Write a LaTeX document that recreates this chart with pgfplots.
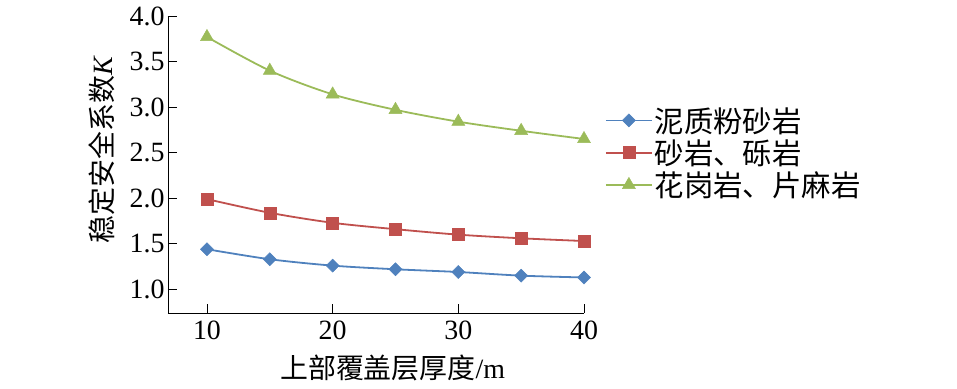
\documentclass[border=0pt]{standalone}
\usepackage{fontspec}
\setmainfont{Liberation Serif}
\newfontfamily\cjk{Noto Sans CJK SC}
\usepackage{pgfplots}
\pgfplotsset{compat=1.18}
\definecolor{cblue}{HTML}{4F81BD}
\definecolor{cred}{HTML}{C0504D}
\definecolor{cgreen}{HTML}{9BBB59}
\begin{document}
\begin{tikzpicture}
\begin{axis}[
  scale only axis,
  width=416bp, height=297bp,
  xmin=6.9, xmax=40, ymin=0.74, ymax=4.0,
  axis x line=bottom, axis y line=left,
  axis line style={-, line width=0.8bp, black},
  xtick={10,20,30,40},
  ytick={1.0,1.5,2.0,2.5,3.0,3.5,4.0},
  y tick label style={/pgf/number format/fixed, /pgf/number format/fixed zerofill, /pgf/number format/precision=1},
  /pgf/number format/assume math mode=true,
  tick align=inside,
  major tick length=9bp,
  tick style={line width=0.8bp, black},
  tick label style={font=\fontsize{28}{32}\selectfont},
  x tick label style={yshift=-4bp},
  xlabel={{\cjk 上部覆盖层厚度}/m},
  ylabel={{\cjk 稳定安全系数}\textit{K}},
  label style={font=\fontsize{28}{32}\selectfont},
  x label style={at={(axis description cs:0.54,-0.185)}, anchor=center},
  y label style={at={(axis description cs:-0.159,0.55)}, anchor=center},
  legend style={draw=none, fill=none, at={(axis description cs:1.05,0.70)}, anchor=north west,
    font=\fontsize{29.5}{33}\selectfont\cjk, row sep=2bp, inner sep=0bp,
    nodes={inner sep=2bp}},
  legend cell align=left,
  legend image code/.code={
    \draw[mark repeat=2,mark phase=2] plot coordinates {(0bp,0bp) (23bp,0bp) (46bp,0bp)};
  },
  every axis plot/.append style={line width=1.8bp, smooth},
]
\addplot[color=cblue, mark=square*, mark size=4.6bp, mark options={solid, rotate=45, fill=cblue, draw=cblue, line width=0.5bp}]
  coordinates {(10,1.44) (15,1.33) (20,1.26) (25,1.22) (30,1.19) (35,1.15) (40,1.13)};
\addlegendentry{泥质粉砂岩}
\addplot[color=cred, mark=square*, mark size=6bp, mark options={solid, fill=cred, draw=cred, line width=0.5bp}]
  coordinates {(10,1.99) (15,1.84) (20,1.73) (25,1.66) (30,1.60) (35,1.56) (40,1.53)};
\addlegendentry{砂岩、砾岩}
\addplot[color=cgreen, mark=triangle*, mark size=7.5bp, mark options={solid, fill=cgreen, draw=cgreen, line width=0.5bp}]
  coordinates {(10,3.77) (15,3.40) (20,3.14) (25,2.97) (30,2.84) (35,2.74) (40,2.65)};
\addlegendentry{花岗岩、片麻岩}
\coordinate (sw) at (rel axis cs:0,0);
\end{axis}
\pgfresetboundingbox
\path[use as bounding box] (sw) ++(-168bp,-76bp) rectangle ++(957bp,389bp);
\end{tikzpicture}
\end{document}
